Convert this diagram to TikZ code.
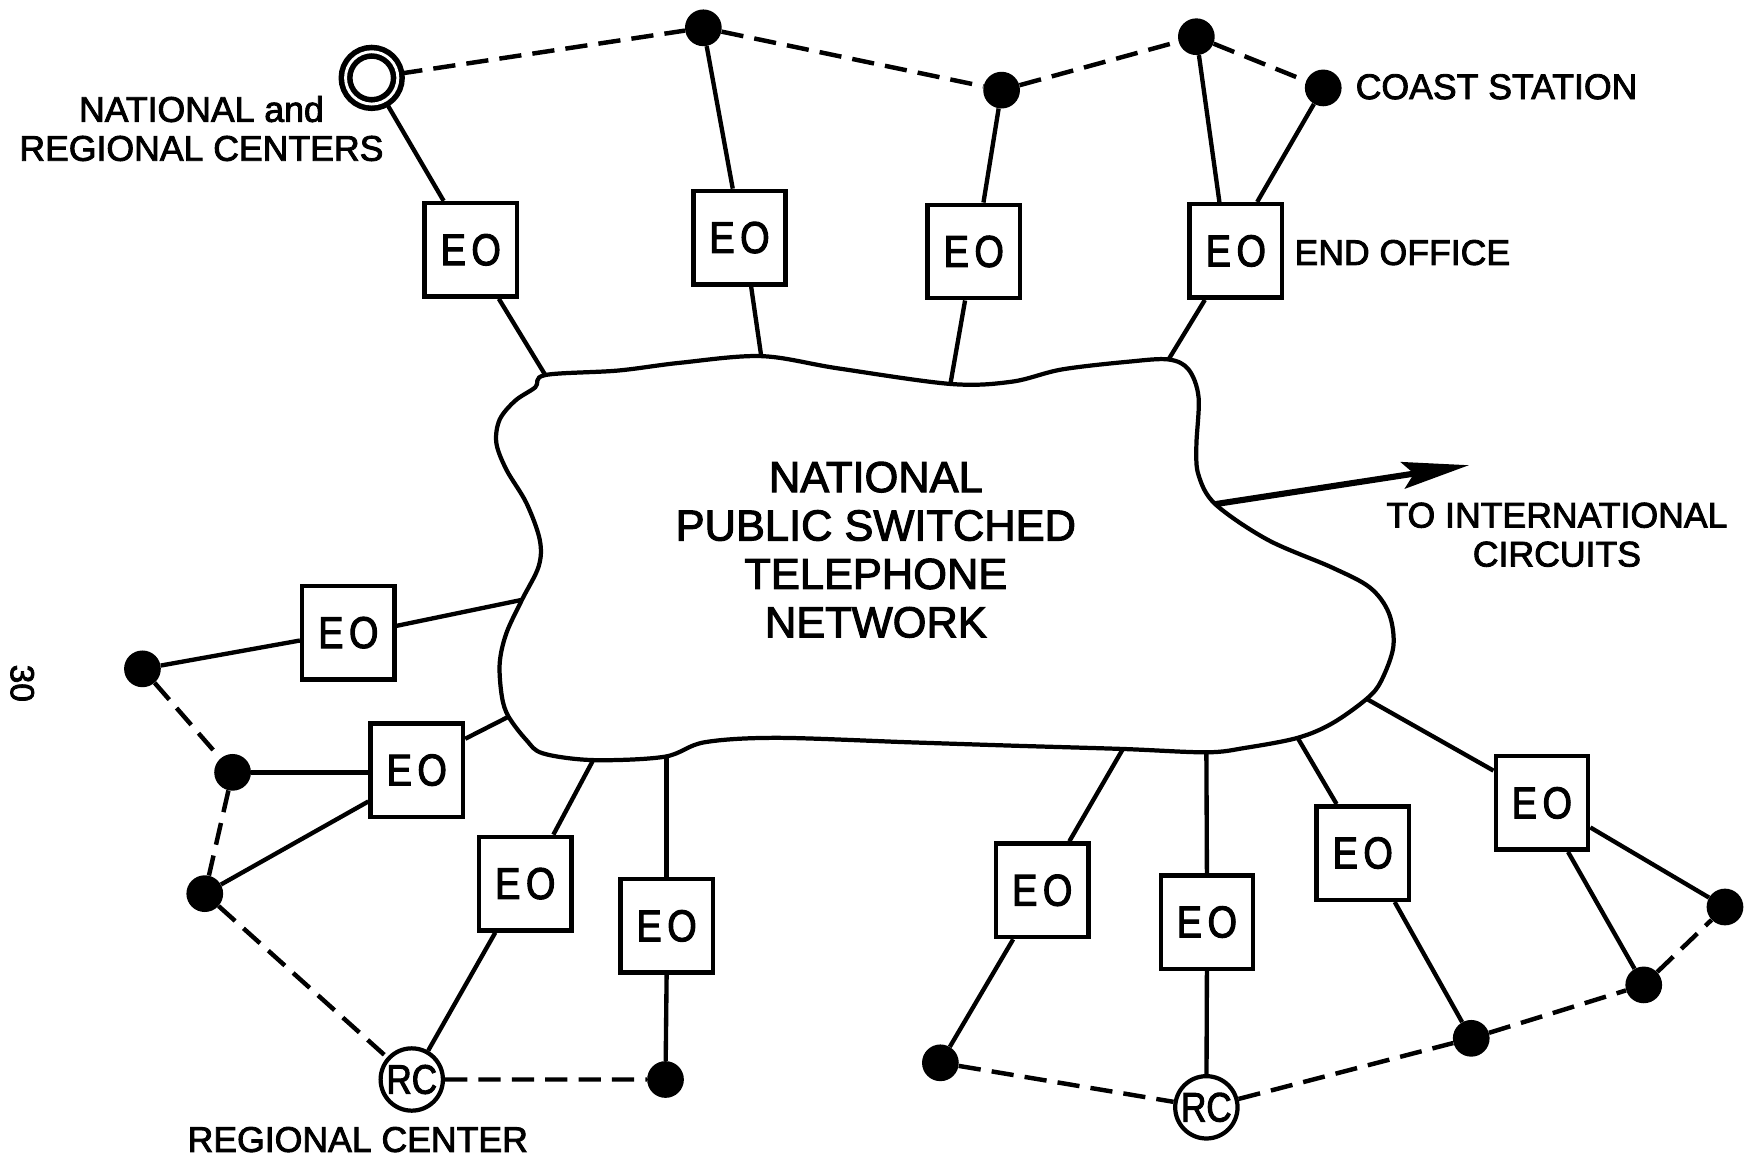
\documentclass[tikz,border=0pt]{standalone}
\usepackage{fontspec}
\setmainfont[FakeBold=2.4]{Liberation Sans}
\newfontfamily\eofont[FakeStretch=0.85, FakeBold=2.4]{Liberation Sans}
\usetikzlibrary{arrows.meta,calc}
\pgfdeclarelayer{background}
\pgfsetlayers{background,main}

\begin{document}
\begin{tikzpicture}[x=1pt, y=-1pt,
  eobox/.style={draw, line width=4pt, fill=white, minimum width=83pt,
    minimum height=84pt, inner sep=0pt, font={\eofont\fontsize{40}{44}\selectfont}},
  blackdot/.style={circle, fill=black, minimum size=33pt, inner sep=0pt},
  rcnode/.style={circle, draw, line width=3.8pt, fill=white, minimum size=56pt,
    inner sep=0pt, font={\eofont\fontsize{37}{37}\selectfont}},
  hubring/.style={circle, draw, line width=5pt, double, double distance=2.6pt,
    fill=white, minimum size=47pt, inner sep=0pt},
  link/.style={line width=3.9pt},
  trunk/.style={line width=4pt, dash pattern=on 20pt off 10pt},
  lettering/.style={inner sep=0pt, align=center, font={\fontsize{32}{35}\selectfont}},
  intl/.style={line width=5.5pt, -{Stealth[length=60pt, width=24pt, inset=10pt]}},
  cloudline/.style={line width=3.8pt, fill=white, line join=round},
]
\useasboundingbox (0,0) rectangle (1568,1043);
\begin{pgfonlayer}{background}
  \fill[white] (0,0) rectangle (1568,1043);
\end{pgfonlayer}

% ---- the network cloud ----
\draw[cloudline] plot[smooth cycle, tension=0.55] coordinates {
  (490,337) (555,333) (611,326) (684,320) (753,331) (854,345) (909,343)
  (954,332) (1014,325) (1050,323) (1068,332) (1077,357) (1075,401)
  (1077,427) (1092,453) (1139,485) (1197,510) (1231,528) (1248,551)
  (1252,581) (1241,612) (1228,628) (1197,650) (1166,663) (1119,672)
  (1084,676) (1009,673) (909,670) (817,667) (698,663) (633,667) (597,680)
  (533,683) (488,677) (473,665) (457,644) (451,626) (449,596) (455,569)
  (469,539) (484,509) (485,485) (473,452) (455,422) (446,398) (449,377)
  (463,360) (481,348)};
\node[inner sep=0pt, align=center, font={\fontsize{39}{43.5}\selectfont}] (pstn)
  at (787,494) {NATIONAL\\PUBLIC SWITCHED\\TELEPHONE\\NETWORK};

% attachment points on the cloud outline
\coordinate (cl-eo1) at (490,337);
\coordinate (cl-eo2) at (684,320);
\coordinate (cl-eo3) at (854,345);
\coordinate (cl-eo4) at (1050,323);
\coordinate (cl-eo5) at (469,539);
\coordinate (cl-eo6) at (457,644);
\coordinate (cl-eo7) at (533,683);
\coordinate (cl-eo8) at (599,681);
\coordinate (cl-eo9) at (1009,673);
\coordinate (cl-eo10) at (1084,676);
\coordinate (cl-eo11) at (1166,663);
\coordinate (cl-eo12) at (1228,628);
\coordinate (cl-intl) at (1092,453);
\coordinate (intl-tip) at (1320,418);

% ---- end offices ----
\node[eobox] (eo1) at (423,224.5) {E\hspace{5pt}O};
\node[eobox] (eo2) at (664.5,213.5) {E\hspace{5pt}O};
\node[eobox] (eo3) at (875,226) {E\hspace{5pt}O};
\node[eobox] (eo4) at (1110.5,225.5) {E\hspace{5pt}O};
\node[eobox] (eo5) at (313,568.5) {E\hspace{5pt}O};
\node[eobox] (eo6) at (374.5,692) {E\hspace{5pt}O};
\node[eobox] (eo7) at (472,794) {E\hspace{5pt}O};
\node[eobox] (eo8) at (599,832) {E\hspace{5pt}O};
\node[eobox] (eo9) at (936.5,800) {E\hspace{5pt}O};
\node[eobox] (eo10) at (1084.5,828.5) {E\hspace{5pt}O};
\node[eobox] (eo11) at (1224.5,766.5) {E\hspace{5pt}O};
\node[eobox] (eo12) at (1385.5,721.5) {E\hspace{5pt}O};

% ---- centres and stations ----
\node[hubring] (dc) at (334,70) {};
\node[rcnode] (rc1) at (370,970) {RC};
\node[rcnode] (rc2) at (1084,995) {RC};
\node[blackdot] (dotA) at (632,25) {};
\node[blackdot] (dotB) at (900,81) {};
\node[blackdot] (dotC) at (1075,33) {};
\node[blackdot] (dotD) at (1189,79) {};
\node[blackdot] (dotE) at (128,601) {};
\node[blackdot] (dotF) at (209,694) {};
\node[blackdot] (dotG) at (184,803) {};
\node[blackdot] (dotH) at (598,970) {};
\node[blackdot] (dotI) at (845,955) {};
\node[blackdot] (dotJ) at (1322,933) {};
\node[blackdot] (dotK) at (1477,885) {};
\node[blackdot] (dotL) at (1550,815) {};

% ---- labels ----
\node[lettering] (natreg) at (181,115.5) {NATIONAL and\\REGIONAL CENTERS};
\node[lettering, anchor=west] (coast) at (1218,78) {COAST STATION};
\node[lettering, anchor=west] (endoff) at (1163,227) {END OFFICE};
\node[lettering] (intltext) at (1399,480.5) {TO INTERNATIONAL\\CIRCUITS};
\node[lettering] (rclabel) at (321.5,1024) {REGIONAL CENTER};
\node[rotate=-90, inner sep=0pt, font={\fontsize{30}{30}\selectfont}] (pagenum) at (20,614) {30};

% ---- outgoing international route ----
\draw[intl] (cl-intl) -- (intl-tip);

% ---- connections ----
\begin{pgfonlayer}{background}
  % top group
  \draw[link] (dc) -- ($(eo1.north west)!0.22!(eo1.north east)$);
  \draw[link] ($(eo1.south west)!0.79!(eo1.south east)$) -- (cl-eo1);
  \draw[link] (dotA) -- ($(eo2.north west)!0.43!(eo2.north east)$);
  \draw[link] ($(eo2.south west)!0.62!(eo2.south east)$) -- (cl-eo2);
  \draw[link] (dotB) -- ($(eo3.north west)!0.6!(eo3.north east)$);
  \draw[link] ($(eo3.south west)!0.41!(eo3.south east)$) -- (cl-eo3);
  \draw[link] (dotC) -- ($(eo4.north west)!0.33!(eo4.north east)$);
  \draw[link] (dotD) -- ($(eo4.north west)!0.72!(eo4.north east)$);
  \draw[link] ($(eo4.south west)!0.18!(eo4.south east)$) -- (cl-eo4);
  \draw[trunk] (dc) -- (dotA) -- (dotB) -- (dotC) -- (dotD);
  % left group
  \draw[link] (cl-eo5) -- ($(eo5.north east)!0.43!(eo5.south east)$);
  \draw[link] ($(eo5.north west)!0.58!(eo5.south west)$) -- (dotE);
  \draw[link] (cl-eo6) -- ($(eo6.north east)!0.18!(eo6.south east)$);
  \draw[link] (dotF) -- (dotF -| eo6.west);
  \draw[link] ($(eo6.north west)!0.82!(eo6.south west)$) -- (dotG);
  \draw[link] (cl-eo7) -- ($(eo7.north west)!0.79!(eo7.north east)$);
  \draw[link] ($(eo7.south west)!0.19!(eo7.south east)$) -- (rc1);
  \draw[link] (cl-eo8) -- (eo8.north);
  \draw[link] (eo8.south) -- (dotH);
  \draw[trunk] (dotE) -- (dotF) -- (dotG) -- (rc1) -- (dotH);
  % right group
  \draw[link] (cl-eo9) -- ($(eo9.north west)!0.78!(eo9.north east)$);
  \draw[link] ($(eo9.south west)!0.2!(eo9.south east)$) -- (dotI);
  \draw[link] (cl-eo10) -- (eo10.north);
  \draw[link] (eo10.south) -- (rc2);
  \draw[link] (cl-eo11) -- ($(eo11.north west)!0.23!(eo11.north east)$);
  \draw[link] ($(eo11.south west)!0.83!(eo11.south east)$) -- (dotJ);
  \draw[link] (cl-eo12) -- ($(eo12.north west)!0.17!(eo12.south west)$);
  \draw[link] ($(eo12.south west)!0.77!(eo12.south east)$) -- (dotK);
  \draw[link] ($(eo12.north east)!0.75!(eo12.south east)$) -- (dotL);
  \draw[trunk] (dotI) -- (rc2) -- (dotJ) -- (dotK) -- (dotL);
\end{pgfonlayer}
\end{tikzpicture}
\end{document}
